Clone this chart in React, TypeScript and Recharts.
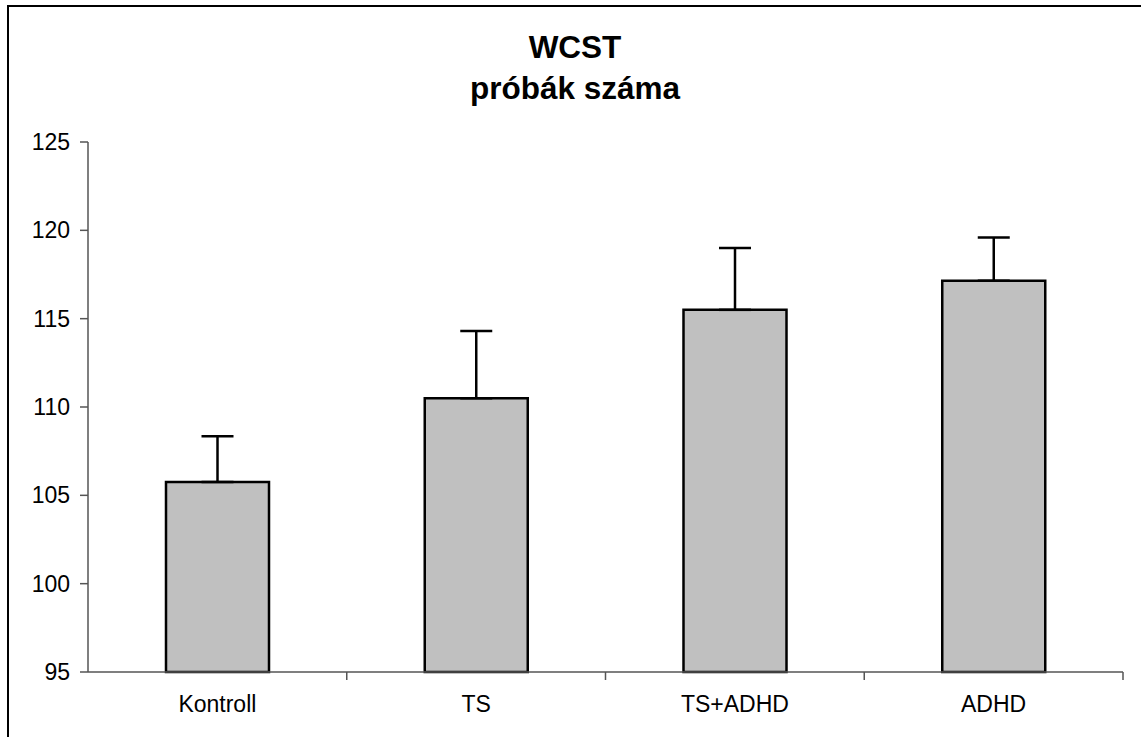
import { Bar, BarChart, ErrorBar, XAxis, YAxis } from 'recharts';

const groups = ['Kontroll', 'TS', 'TS+ADHD', 'ADHD'];
const means = [105.75, 110.5, 115.5, 117.15];
const errors = [2.6, 3.8, 3.5, 2.45];
const yTicks = [95, 100, 105, 110, 115, 120, 125];

const data = groups.map((g, i) => ({ group: g, mean: means[i], err: [0, errors[i]] }));

const FONT = 'Arial, "Liberation Sans", sans-serif';
const AXIS = '#555';
const TICK_LEN = 8;
const LABEL_GAP = 24;

// category label plus an Excel-style tick mark at the right edge of each category band
function CategoryTick(props: any) {
  const { x, y, payload } = props;
  const axisY = y - LABEL_GAP;
  const edge = x + (payload.offset || 0);
  return (
    <g>
      <line x1={edge} x2={edge} y1={axisY} y2={axisY + TICK_LEN} stroke={AXIS} strokeWidth={1.5} />
      <text x={x} y={y} dy="0.71em" textAnchor="middle" fill="#000" fontSize={23} fontFamily={FONT}>
        {payload.value}
      </text>
    </g>
  );
}

export default function App() {
  return (
    <div
      style={{
        position: 'absolute',
        left: 0,
        top: 0,
        width: 1141,
        height: 737,
        overflow: 'hidden',
        background: '#fff',
        fontFamily: FONT
      }}
    >
      {/* chart frame, only top and left edges are visible in the picture */}
      <div
        style={{
          position: 'absolute',
          left: 7,
          top: 5,
          width: 1200,
          height: 800,
          borderTop: '2px solid #000',
          borderLeft: '2px solid #000'
        }}
      />
      <div
        style={{
          position: 'absolute',
          left: 0,
          top: 27,
          width: 1150,
          textAlign: 'center',
          fontSize: 31.5,
          fontWeight: 'bold',
          lineHeight: '41px',
          color: '#000'
        }}
      >
        <div>WCST</div>
        <div>próbák száma</div>
      </div>
      <div style={{ position: 'absolute', left: 0, top: 0 }}>
        <BarChart
          width={1141}
          height={737}
          data={data}
          margin={{ top: 142, right: 18, bottom: 20, left: 8 }}
          barSize={103}
        >
          <XAxis
            dataKey="group"
            height={45}
            interval={0}
            axisLine={{ stroke: AXIS, strokeWidth: 1.5 }}
            tickLine={false}
            tickSize={0}
            tickMargin={LABEL_GAP}
            tick={<CategoryTick />}
          />
          <YAxis
            width={80}
            domain={[95, 125]}
            ticks={yTicks}
            interval={0}
            tickSize={8}
            tickMargin={10}
            axisLine={{ stroke: AXIS, strokeWidth: 1.5 }}
            tickLine={{ stroke: AXIS, strokeWidth: 1.5 }}
            tick={{ fill: '#000', fontSize: 23, fontFamily: FONT }}
          />
          <Bar dataKey="mean" fill="#c0c0c0" stroke="#000" strokeWidth={2.5} isAnimationActive={false}>
            <ErrorBar dataKey="err" direction="y" width={16} stroke="#000" strokeWidth={2.5} />
          </Bar>
        </BarChart>
      </div>
    </div>
  );
}
